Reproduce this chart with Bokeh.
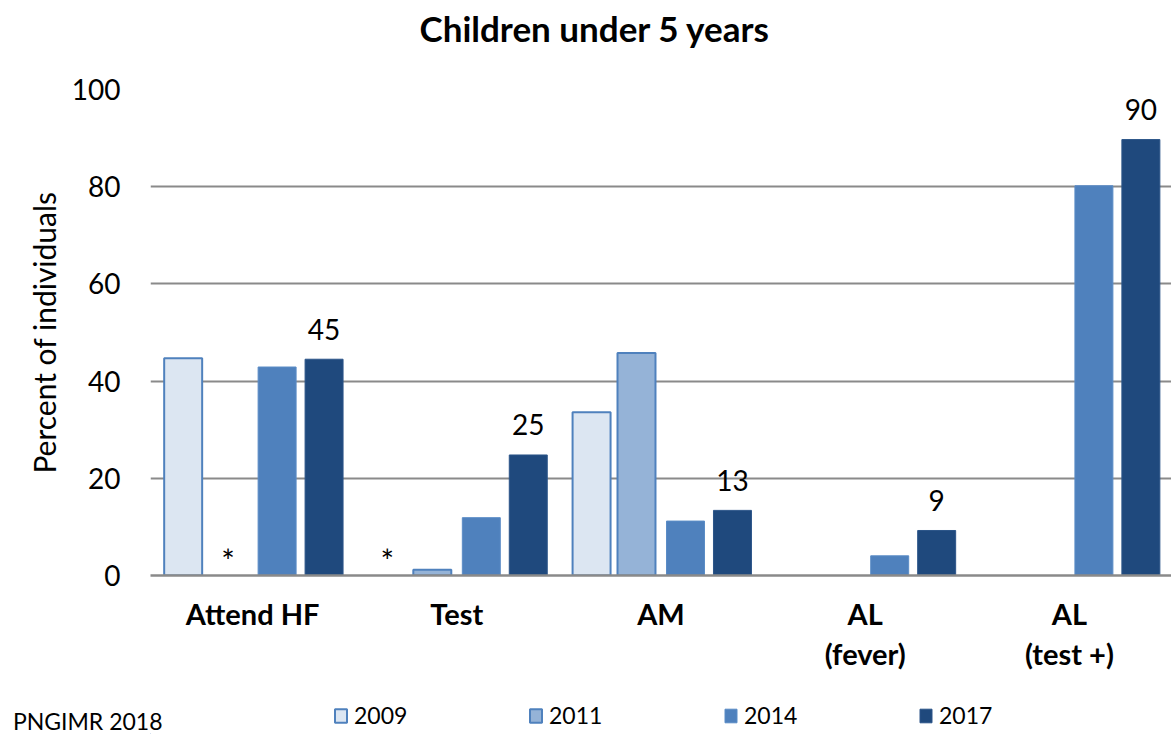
from bokeh.plotting import figure
from bokeh.models import ColumnDataSource, Label, Legend, LegendItem, FactorRange, FixedTicker
from bokeh.layouts import column
from bokeh.transform import dodge
from bokeh.core.properties import value
from bokeh.embed import file_html
from bokeh.resources import INLINE

categories = ["Attend HF", "Test", "AM", "AL\n(fever)", "AL\n(test +)"]
years = ["2009", "2011", "2014", "2017"]
nan = float("nan")
v2009 = [44.7, nan, 33.6, nan, nan]
v2011 = [nan, 1.2, 45.8, nan, nan]
v2014 = [42.9, 11.9, 11.2, 4.05, 80.2]
v2017 = [44.5, 24.8, 13.4, 9.26, 89.7]
labels2017 = ["45", "25", "13", "9", "90"]
star_cats = ["Attend HF", "Test"]
star_years = ["2011", "2009"]
y_ticks = [0, 20, 40, 60, 80, 100]
title_text = "Children under 5 years"
source_text = "PNGIMR 2018"

FONT = "Lato"
fills = {"2009": "#dce6f2", "2011": "#95b3d7", "2014": "#4f81bd", "2017": "#1f497d"}
lines = {"2009": "#4f81bd", "2011": "#4f81bd", "2014": "#5b8cc6", "2017": "#2c5589"}
lwidths = {"2009": 2, "2011": 2, "2014": 1, "2017": 1}
offsets = {"2009": -0.34, "2011": -0.12, "2014": 0.12, "2017": 0.35}
bar_w = 0.186


def strip(height):
    f = figure(width=1171, height=height, x_range=(0, 1), y_range=(0, 1),
               output_backend="svg", toolbar_location=None, min_border=0)
    f.xaxis.visible = False
    f.yaxis.visible = False
    f.grid.visible = False
    f.outline_line_color = None
    f.background_fill_color = "white"
    f.border_fill_color = "white"
    return f


# ---- top strip: title
top = strip(60)
top.add_layout(Label(x=269, y=33, x_units="screen", y_units="screen", text=title_text,
                     text_font=FONT, text_font_style="bold", text_font_size="35px",
                     text_align="left", text_baseline="middle", text_color="black"))

# ---- main chart
src = ColumnDataSource(dict(cat=categories, y2009=v2009, y2011=v2011, y2014=v2014,
                            y2017=v2017, lab=labels2017))

p = figure(x_range=FactorRange(*categories), y_range=(0, 100), width=1171, height=630,
           output_backend="svg", toolbar_location=None,
           min_border_left=150, min_border_right=0, min_border_top=29, min_border_bottom=115)
p.outline_line_color = None
p.background_fill_color = "white"
p.border_fill_color = "white"

for yr in years:
    p.vbar(x=dodge("cat", offsets[yr], range=p.x_range), top="y" + yr, width=bar_w,
           source=src, fill_color=fills[yr], line_color=lines[yr], line_width=lwidths[yr])

p.text(x=dodge("cat", offsets["2017"], range=p.x_range), y="y2017", text="lab", source=src,
       text_font=value(FONT), text_font_size="28px", text_align="center",
       text_baseline="middle", y_offset=-30, text_color="black")

for c, yr in zip(star_cats, star_years):
    s = ColumnDataSource(dict(cat=[c], y=[0], t=["*"]))
    p.text(x=dodge("cat", offsets[yr], range=p.x_range), y="y", text="t", source=s,
           text_font=value(FONT), text_font_size="32px", text_align="center",
           text_baseline="middle", y_offset=-15, text_color="black")

p.yaxis.ticker = y_ticks
p.yaxis.axis_line_color = None
p.yaxis.major_tick_line_color = None
p.yaxis.minor_tick_line_color = None
p.yaxis.major_label_standoff = 24
p.yaxis.major_label_text_font = FONT
p.yaxis.major_label_text_font_size = "28px"
p.yaxis.major_label_text_color = "black"
p.yaxis.axis_label = "Percent of individuals"
p.yaxis.axis_label_text_font = FONT
p.yaxis.axis_label_text_font_style = "normal"
p.yaxis.axis_label_text_font_size = "30px"
p.yaxis.axis_label_text_color = "black"
p.yaxis.axis_label_standoff = 7

p.xaxis.axis_line_color = "#8a8a8a"
p.xaxis.axis_line_width = 2.5
p.xaxis.major_tick_line_color = None
p.xaxis.minor_tick_line_color = None
p.xaxis.major_label_standoff = 14
p.xaxis.major_label_text_font = FONT
p.xaxis.major_label_text_font_style = "bold"
p.xaxis.major_label_text_font_size = "29px"
p.xaxis.major_label_text_color = "black"
p.xaxis.major_label_text_line_height = 1.15

p.xgrid.grid_line_color = None
p.ygrid.grid_line_color = "#8a8a8a"
p.ygrid.grid_line_width = 2

# ---- bottom strip: legend and source note
b = figure(width=1171, height=44, x_range=(0, 1), y_range=(0, 44),
           output_backend="svg", toolbar_location=None, min_border=0)
b.xaxis.visible = False
b.grid.visible = False
b.outline_line_color = None
b.background_fill_color = "white"
b.border_fill_color = "white"
b.yaxis.ticker = FixedTicker(ticks=[14])
b.yaxis.major_label_overrides = {14: source_text}
b.yaxis.axis_line_color = None
b.yaxis.major_tick_line_color = None
b.yaxis.minor_tick_line_color = None
b.yaxis.major_label_standoff = -18
b.yaxis.major_label_text_font = FONT
b.yaxis.major_label_text_font_size = "23px"
b.yaxis.major_label_text_color = "black"

dummy = ColumnDataSource(dict(x=[-10], top=[0]))
items = []
for yr in years:
    r = b.vbar(x="x", top="top", width=0.001, source=dummy, fill_color=fills[yr],
               line_color=lines[yr], line_width=lwidths[yr])
    items.append(LegendItem(label=yr, renderers=[r]))
legend = Legend(items=items, orientation="horizontal", location=(183, 5),
                padding=0, margin=0, spacing=0, border_line_color=None,
                background_fill_alpha=0, glyph_width=15, glyph_height=17,
                label_standoff=6, label_width=174, label_text_font=FONT,
                label_text_font_size="23px", label_text_color="black")
b.add_layout(legend, "center")

layout = column(top, p, b, spacing=0)
open("out.html", "w").write(file_html(layout, INLINE))
